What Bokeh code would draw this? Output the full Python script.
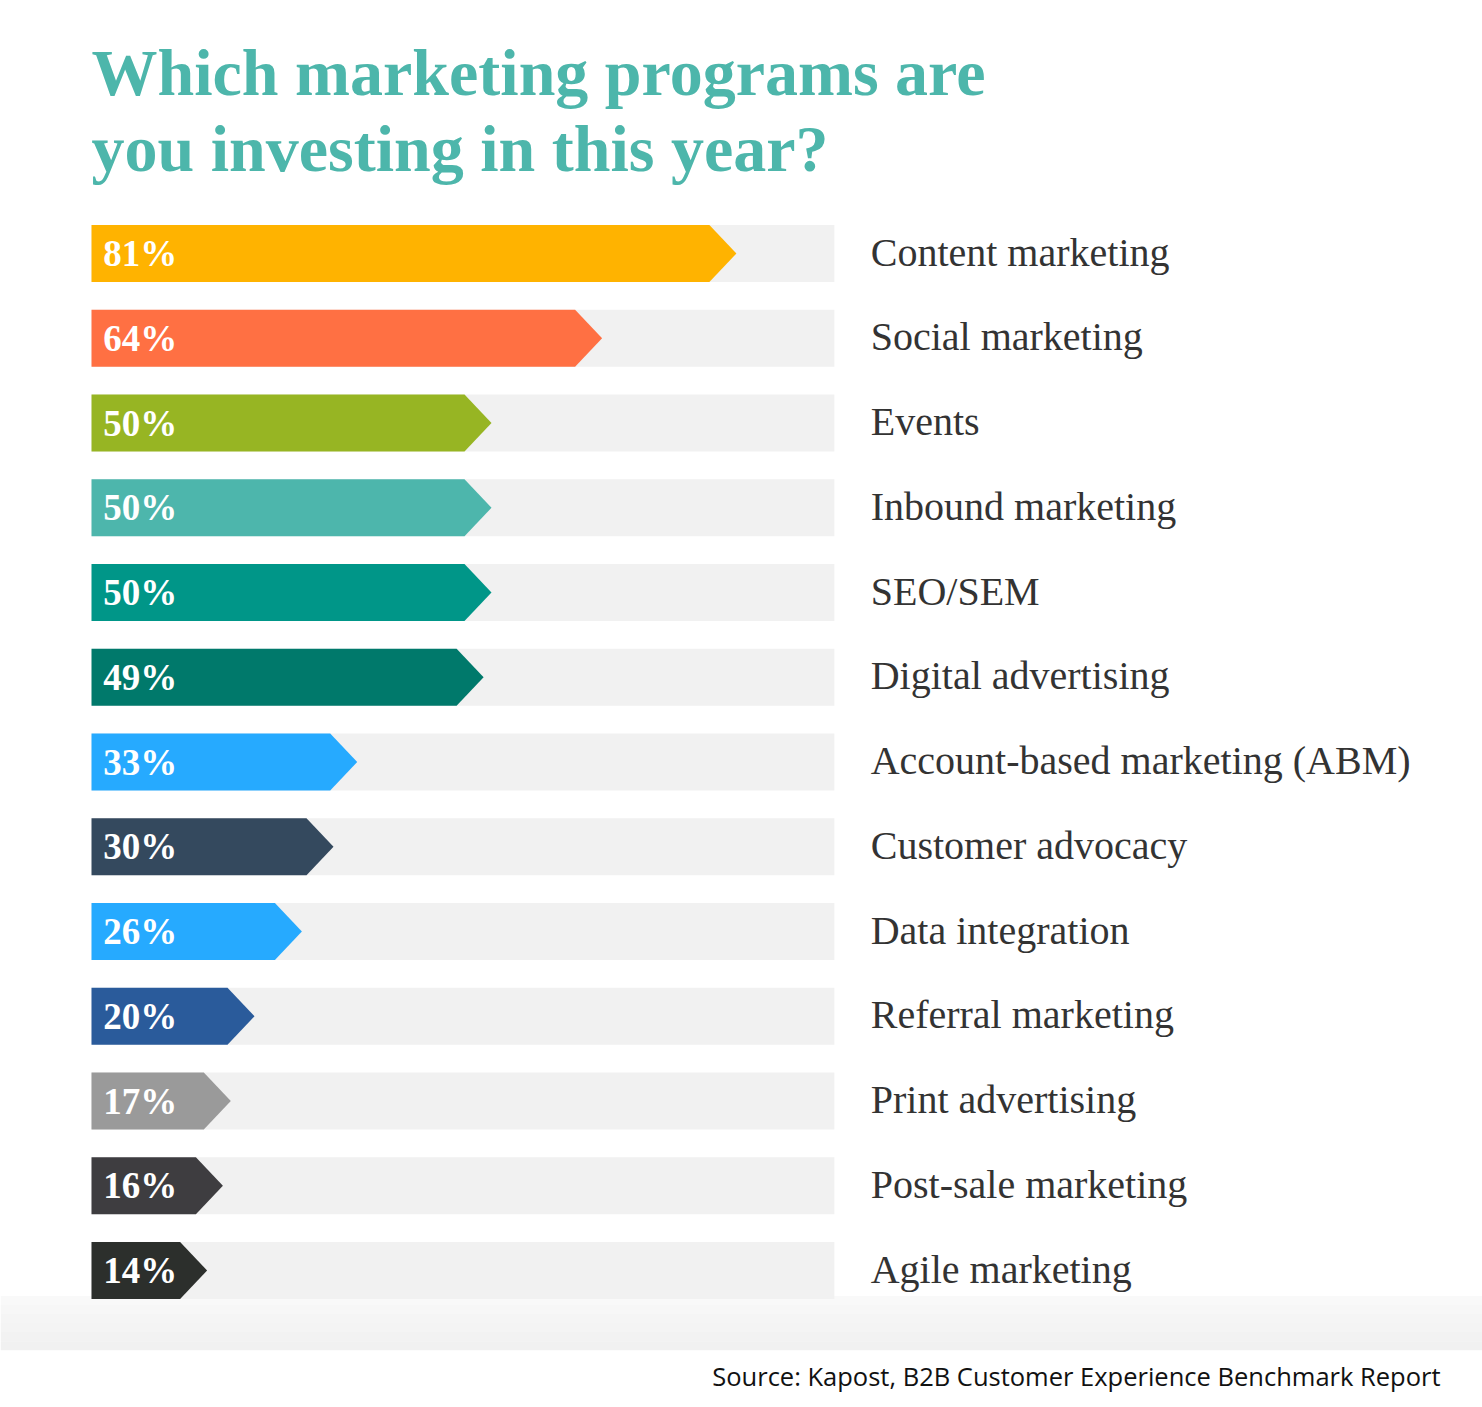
from bokeh.plotting import figure
from bokeh.models import Range1d, Label, ColumnDataSource
from bokeh.embed import file_html
from bokeh.resources import INLINE
from bokeh.core.properties import value

# ---- data ----
categories = [
    "Content marketing", "Social marketing", "Events", "Inbound marketing",
    "SEO/SEM", "Digital advertising", "Account-based marketing (ABM)",
    "Customer advocacy", "Data integration", "Referral marketing",
    "Print advertising", "Post-sale marketing", "Agile marketing",
]
values = [81, 64, 50, 50, 50, 49, 33, 30, 26, 20, 17, 16, 14]
colors = [
    "#FFB300", "#FF7043", "#97B523", "#4DB6AC", "#009688", "#00796B",
    "#26AAFF", "#34495E", "#26AAFF", "#2A5B9B", "#9A9A9A", "#3E3D40", "#2C2F2C",
]
value_labels = [f"{v}%" for v in values]
title_lines = ["Which marketing programs are", "you investing in this year?"]
source_text = "Source: Kapost, B2B Customer Experience Benchmark Report"

# ---- layout ----
W, H = 1482, 1407
PX_PER_UNIT = 7.9
ROW_PX = 84.75
x_start = -96 / PX_PER_UNIT
x_end = x_start + W / PX_PER_UNIT
y_top = -253 / ROW_PX
y_bottom = y_top + H / ROW_PX

BAR_HALF = 28.5 / ROW_PX
TIP = 27 / PX_PER_UNIT
BAR_START = -0.63
BG_END = 93.4

p = figure(width=W, height=H, x_range=Range1d(x_start, x_end),
           y_range=Range1d(y_bottom, y_top), output_backend="svg",
           toolbar_location=None, min_border=0,
           x_axis_location=None, y_axis_location=None)
p.grid.visible = False
p.outline_line_color = None
p.background_fill_color = "white"
p.border_fill_color = "white"

rows = list(range(len(categories)))

# bottom light band (slight vertical gradient)
n = len(categories)
band_top, band_bottom = n - 0.70, n - 0.06
steps = 6
shades = ["#F9F9F9", "#F7F7F7", "#F5F5F5", "#F4F4F4", "#F2F2F2", "#F1F1F1"]
edges = [band_top + (band_bottom - band_top) * k / steps for k in range(steps + 1)]
p.quad(left=[x_start] * steps, right=[x_end] * steps, top=edges[:-1],
       bottom=edges[1:], fill_color=shades, line_color=None)

# background tracks
p.quad(left=[BAR_START] * len(rows), right=[BG_END] * len(rows),
       top=[r - BAR_HALF for r in rows], bottom=[r + BAR_HALF for r in rows],
       fill_color="#F1F1F1", line_color=None)

# arrow bars
xs = [[BAR_START, v - TIP, v, v - TIP, BAR_START] for v in values]
ys = [[r - BAR_HALF, r - BAR_HALF, r, r + BAR_HALF, r + BAR_HALF] for r in rows]
p.patches(xs=xs, ys=ys, fill_color=colors, line_color=None)

# value labels
src = ColumnDataSource(dict(x=[0.85] * len(rows), y=rows, t=value_labels))
p.text(x="x", y="y", text="t", source=src, text_color="white",
       text_font=value("Liberation Serif"), text_font_style="bold",
       text_font_size="37px", text_baseline="middle", text_align="left")

# category labels
src2 = ColumnDataSource(dict(x=[98.0] * len(rows), y=[r - 0.015 for r in rows], t=categories))
p.text(x="x", y="y", text="t", source=src2, text_color="#333333",
       text_font=value("Liberation Serif"), text_font_size="40px",
       text_baseline="middle", text_align="left")

# title
TITLE_SIZE = 66
for i, base in enumerate([98, 174]):
    p.add_layout(Label(x=91, y=H - base + 0.4 * TITLE_SIZE, x_units="screen", y_units="screen",
                       text=title_lines[i], text_color="#4DB6AB", text_font="Liberation Serif",
                       text_font_style="bold", text_font_size=f"{TITLE_SIZE}px",
                       text_baseline="alphabetic"))

# source
SRC_SIZE = 25.5
p.add_layout(Label(x=1440, y=H - 1386 + 0.4 * SRC_SIZE, x_units="screen", y_units="screen",
                   text=source_text, text_color="#111111", text_font="Open Sans",
                   text_font_size=f"{SRC_SIZE}px", text_align="right",
                   text_baseline="alphabetic"))

open("out.html", "w").write(file_html(p, INLINE))
